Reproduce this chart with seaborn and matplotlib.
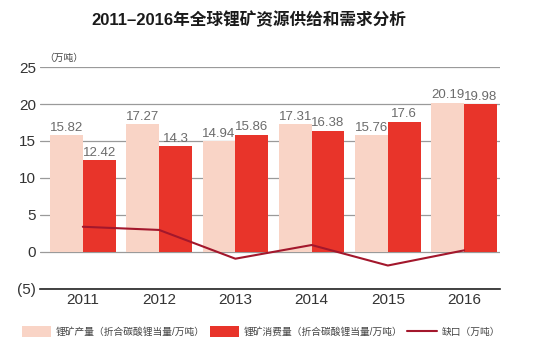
import numpy as np
import pandas as pd
import matplotlib.pyplot as plt
import seaborn as sns

# Dane
years = ['2011', '2012', '2013', '2014', '2015', '2016']
supply = [15.82, 17.27, 14.94, 17.31, 15.76, 20.19]
demand = [12.42, 14.3, 15.86, 16.38, 17.6, 19.98]
gap = [3.4, 2.97, -0.92, 0.93, -1.84, 0.21]

lab_supply = '锂矿产量（折合碳酸锂当量/万吨）'
lab_demand = '锂矿消费量（折合碳酸锂当量/万吨）'
lab_gap = '缺口（万吨）'

df = pd.DataFrame({
    'Rok': years * 2,
    'Wartosc': supply + demand,
    'Seria': [lab_supply] * len(years) + [lab_demand] * len(years),
})

sns.set_style('white')
plt.rcParams['font.family'] = ['Liberation Sans', 'Noto Sans CJK SC', 'DejaVu Sans']

fig = plt.figure(figsize=(5.5, 3.51), dpi=100)
ax = fig.add_axes([0.073, 0.177, 0.836, 0.632])

ax = sns.barplot(data=df, x='Rok', y='Wartosc', hue='Seria',
                 palette=['#F9D4C6', '#E8342A'], width=0.86, gap=0,
                 saturation=1, linewidth=0, edgecolor='none', ax=ax, zorder=2)

sns.lineplot(x=np.arange(len(years)), y=gap, color='#A3172C', lw=1.5,
             ax=ax, zorder=3, label=lab_gap)

for c in ax.containers:
    ax.bar_label(c, fmt='%g', padding=1, fontsize=9.5, color='#6b6b6b')

ax.set_ylim(-5, 25)
ax.set_xlim(-0.56, 5.47)
ax.set_yticks([-5, 0, 5, 10, 15, 20, 25])
ax.set_yticklabels(['(5)', '0', '5', '10', '15', '20', '25'])
ax.yaxis.grid(True, color='#9a9a9a', lw=0.9, zorder=0)
ax.set_axisbelow(True)
ax.tick_params(axis='both', labelsize=11, colors='#333333', length=0, pad=3)
ax.set_xlabel('')
ax.set_ylabel('')
for s in ['left', 'right', 'top']:
    ax.spines[s].set_visible(False)
ax.spines['bottom'].set_color('#222222')
ax.spines['bottom'].set_linewidth(1.2)

fig.text(0.453, 0.943, '2011–2016年全球锂矿资源供给和需求分析', ha='center',
         va='center', fontsize=12, fontweight='bold', color='#1a1a1a')
fig.text(0.08, 0.835, '（万吨）', ha='left', va='center', fontsize=7, color='#444444')

handles, labels = ax.get_legend_handles_labels()
ax.legend(handles, labels, loc='upper center', bbox_to_anchor=(0.48, -0.13),
          ncol=3, frameon=False, fontsize=7, handlelength=3.0, handleheight=1.3,
          columnspacing=0.5, handletextpad=0.5, labelcolor='#444444')

plt.savefig('out.png', dpi=100)
plt.close()
